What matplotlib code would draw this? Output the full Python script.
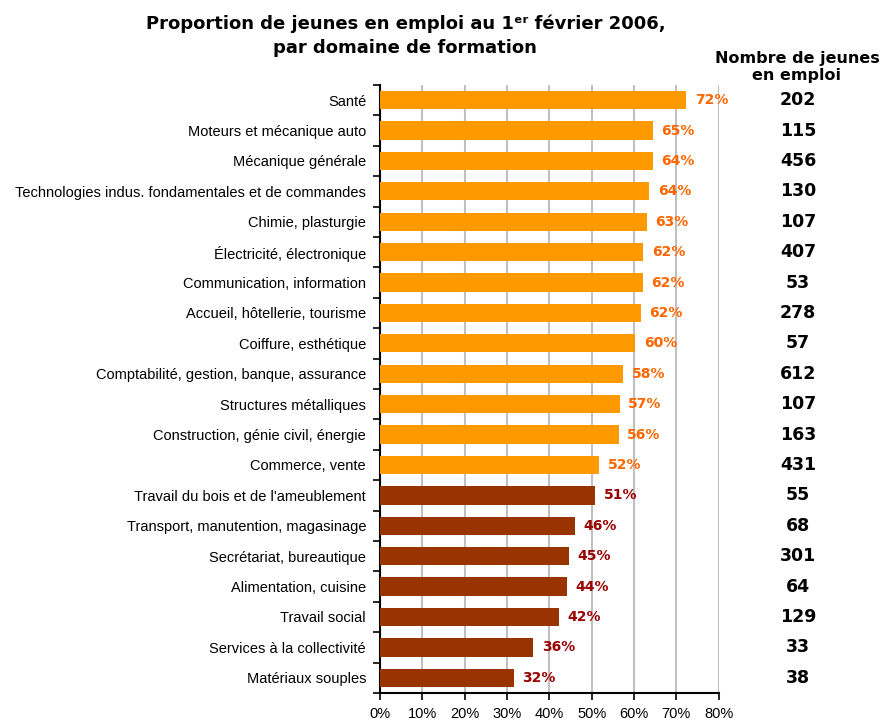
import matplotlib
matplotlib.use("Agg")
import matplotlib.pyplot as plt
import numpy as np

categories = [
    "Santé",
    "Moteurs et mécanique auto",
    "Mécanique générale",
    "Technologies indus. fondamentales et de commandes",
    "Chimie, plasturgie",
    "Électricité, électronique",
    "Communication, information",
    "Accueil, hôtellerie, tourisme",
    "Coiffure, esthétique",
    "Comptabilité, gestion, banque, assurance",
    "Structures métalliques",
    "Construction, génie civil, énergie",
    "Commerce, vente",
    "Travail du bois et de l'ameublement",
    "Transport, manutention, magasinage",
    "Secrétariat, bureautique",
    "Alimentation, cuisine",
    "Travail social",
    "Services à la collectivité",
    "Matériaux souples",
]
shares = [72.4, 64.5, 64.4, 63.6, 63.0, 62.2, 62.1, 61.7, 60.3, 57.5,
          56.6, 56.4, 51.8, 50.8, 46.1, 44.7, 44.2, 42.3, 36.2, 31.6]
share_labels = ["72%", "65%", "64%", "64%", "63%", "62%", "62%", "62%", "60%", "58%",
                "57%", "56%", "52%", "51%", "46%", "45%", "44%", "42%", "36%", "32%"]
counts = [202, 115, 456, 130, 107, 407, 53, 278, 57, 612,
          107, 163, 431, 55, 68, 301, 64, 129, 33, 38]
n_high = 13  # first 13 rows drawn in orange

orange, brown = "#FF9900", "#993300"
orange_txt, brown_txt = "#FF6600", "#990000"

fig = plt.figure(figsize=(8.91, 7.2), dpi=100)
ax = fig.add_axes([0.4265, 0.0375, 0.380, 0.8445])

n = len(categories)
y = np.arange(n)
colors = [orange if i < n_high else brown for i in range(n)]
ax.barh(y, shares, height=0.6, color=colors, zorder=3)
ax.set_ylim(n - 0.5, -0.5)
ax.set_xlim(0, 80)

ax.set_xticks(np.arange(0, 81, 10))
ax.set_xticklabels([f"{v}%" for v in range(0, 81, 10)], fontsize=10.5,
                   family="Liberation Sans")
ax.xaxis.grid(True, color="#C0C0C0", linewidth=1.5, zorder=0)
ax.set_yticks(y)
ax.set_yticklabels(categories, fontsize=10.5, family="Liberation Sans")
ax.tick_params(axis="y", which="major", length=0, pad=10)
ax.set_yticks(np.arange(-0.5, n, 1), minor=True)
ax.tick_params(axis="y", which="minor", length=5, width=1.2, direction="out")
ax.tick_params(axis="x", length=5, width=1.2, direction="out", pad=5)

for s in ["top", "right"]:
    ax.spines[s].set_visible(False)
for s in ["left", "bottom"]:
    ax.spines[s].set_linewidth(1.5)
    ax.spines[s].set_color("black")

for i, (v, lab) in enumerate(zip(shares, share_labels)):
    c = orange_txt if i < n_high else brown_txt
    ax.text(v + 2, i, lab, va="center", ha="left", fontsize=10,
            fontweight="bold", color=c, family="DejaVu Sans", zorder=4)

# counts column
for i, cnt in enumerate(counts):
    ax.text(98.8, i, str(cnt), va="center", ha="center", fontsize=12.5,
            fontweight="bold", color="black", family="DejaVu Sans",
            clip_on=False)

fig.text(0.8945, 0.907, "Nombre de jeunes\nen emploi", ha="center", va="center",
         fontsize=11.5, fontweight="bold", family="DejaVu Sans", linespacing=1.2)

fig.text(0.455, 0.950, "Proportion de jeunes en emploi au 1ᵉʳ février 2006,\npar domaine de formation",
         ha="center", va="center", fontsize=13, fontweight="bold",
         family="DejaVu Sans", linespacing=1.45)

fig.savefig("out.png", dpi=100)
